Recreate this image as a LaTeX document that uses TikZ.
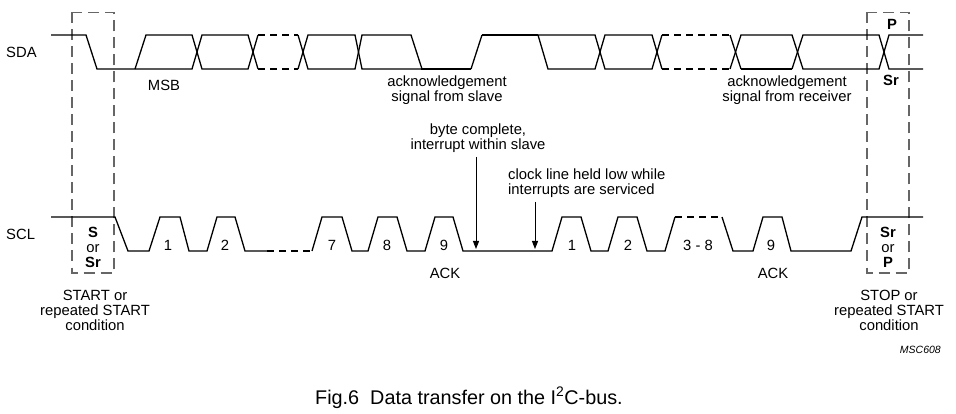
\documentclass[tikz,border=0pt]{standalone}
\usepackage{fontspec}
\setmainfont{Liberation Sans}
\usetikzlibrary{arrows.meta}
\begin{document}
\begin{tikzpicture}[x=1pt,y=-1pt,
  sig/.style={line width=1.3pt, line join=miter, line cap=butt},
  thk/.style={line width=2pt, line cap=butt},
  dsig/.style={sig, dash pattern=on 7pt off 5pt},
  dbox/.style={draw=black!60, line width=1.1pt, dash pattern=on 11pt off 6pt},
  lbl/.style={font=\fontsize{14.8}{15}\selectfont, inner sep=0pt, anchor=base},
  bl/.style={lbl, font=\fontsize{14.8}{15}\selectfont\bfseries},
  arr/.style={line width=1pt, -{Triangle[length=8pt,width=6pt]}}]
\useasboundingbox (0,0) rectangle (956,414);

% dashed condition boxes
\draw[dbox] (72,12.5) rectangle (114,273);
\draw[dbox] (867,12.5) rectangle (909,273);

% ---------- SDA ----------
\draw[sig] (51,35) -- (86,35) -- (97,69) -- (192,69) -- (202,35) -- (248,35) -- (258,69);
\draw[sig] (135,69) -- (146,35) -- (192,35) -- (202,69) -- (248,69) -- (258,35);
\draw[dsig] (258,35) -- (298,35);
\draw[dsig] (258,69) -- (298,69);
\draw[sig] (298,35) -- (308,69) -- (355,69) -- (362,35) -- (411,35) -- (422,69);
\draw[sig] (298,69) -- (308,35) -- (355,35) -- (362,69) -- (422,69);
\draw[thk] (421,69) -- (471,69);
\draw[sig] (471,69) -- (482,35);
\draw[thk] (482,35) -- (538,35);
\draw[sig] (538,35) -- (595,35) -- (605,69) -- (652,69) -- (662,35);
\draw[sig] (538,35) -- (548,69) -- (595,69) -- (605,35) -- (652,35) -- (662,69);
\draw[dsig] (662,35) -- (730,35);
\draw[dsig] (662,69) -- (730,69);
\draw[sig] (730,35) -- (741,69);
\draw[thk] (741,69) -- (792,69);
\draw[sig] (792,69) -- (803,35) -- (879,35) -- (889,69) -- (923,69);
\draw[sig] (730,69) -- (741,35) -- (792,35) -- (803,69) -- (879,69) -- (889,35) -- (923,35);

% ---------- SCL ----------
\draw[sig] (51,217) -- (115,217) -- (128,251) -- (149,251) -- (160,217) -- (180,217)
  -- (189,251) -- (207,251) -- (217,217) -- (235,217) -- (245,251) -- (267,251);
\draw[dsig] (267,251) -- (312,251);
\draw[sig] (312,251) -- (322,217) -- (342,217) -- (352,251) -- (368,251) -- (378,217)
  -- (397,217) -- (407,251) -- (425,251) -- (435,217) -- (453,217) -- (463,251)
  -- (552,251) -- (562,217) -- (581,217) -- (591,251) -- (608,251) -- (618,217)
  -- (637,217) -- (647,251) -- (665,251) -- (675,217);
\draw[dsig] (675,217) -- (722,217);
\draw[sig] (722,217) -- (733,251) -- (753,251) -- (763,217) -- (782,217) -- (791,251)
  -- (851,251) -- (862,217) -- (923,217);

% arrows
\coordinate (bcS) at (476,157);
\coordinate (bcE) at (476,249);
\coordinate (clS) at (535,202);
\coordinate (clE) at (535,249);
\draw[arr] (bcS) -- (bcE);
\draw[arr] (clS) -- (clE);

% ---------- labels ----------
\node[lbl, anchor=base west] (sda) at (6,57.3) {SDA};
\node[lbl, anchor=base west] (scl) at (6,239.3) {SCL};
\node[lbl] (msb) at (164,91) {MSB};
\node[lbl] (ack1a) at (447,87) {acknowledgement};
\node[lbl] (ack1b) at (447,102) {signal from slave};
\node[lbl] (ack2a) at (787,87) {acknowledgement};
\node[lbl] (ack2b) at (787,102) {signal from receiver};
\node[bl] (ptop) at (892,29.3) {P};
\node[bl] (srtop) at (891,86) {Sr};

\node[lbl] (bc1) at (478,135) {byte complete,};
\node[lbl] (bc2) at (478,150) {interrupt within slave};
\node[lbl, anchor=base west] (cl1) at (508,180) {clock line held low while};
\node[lbl, anchor=base west] (cl2) at (508,195) {interrupts are serviced};

\node[lbl] (n1) at (168,251) {1};
\node[lbl] (n2) at (225,251) {2};
\node[lbl] (n7) at (332,251) {7};
\node[lbl] (n8) at (387,251) {8};
\node[lbl] (n9) at (444,251) {9};
\node[lbl] (m1) at (572,251) {1};
\node[lbl] (m2) at (628,251) {2};
\node[lbl] (m38) at (698,251) {3 - 8};
\node[lbl] (m9) at (771,251) {9};
\node[lbl] (ackA) at (445,278) {ACK};
\node[lbl] (ackB) at (773,278) {ACK};

\node[bl] (sL) at (93,237) {S};
\node[lbl] (orL) at (93,252) {or};
\node[bl] (srL) at (93,267) {Sr};
\node[bl] (srR) at (888,237) {Sr};
\node[lbl] (orR) at (888,252) {or};
\node[bl] (pR) at (888,267) {P};

\node[lbl] (st1) at (95,300.7) {START or};
\node[lbl] (st2) at (95,315.7) {repeated START};
\node[lbl] (st3) at (95,330.7) {condition};
\node[lbl] (sp1) at (889,300.7) {STOP or};
\node[lbl] (sp2) at (889,315.7) {repeated START};
\node[lbl] (sp3) at (889,330.7) {condition};

\node[inner sep=0pt, anchor=base east, font=\fontsize{10.5}{12}\selectfont\itshape] (msc) at (941,353) {MSC608};
\node[inner sep=0pt, anchor=base west, font=\fontsize{19.8}{22}\selectfont] (cap) at (315,404) {Fig.6\ \ Data transfer on the I\textsuperscript{2}C-bus.};
\end{tikzpicture}
\end{document}
